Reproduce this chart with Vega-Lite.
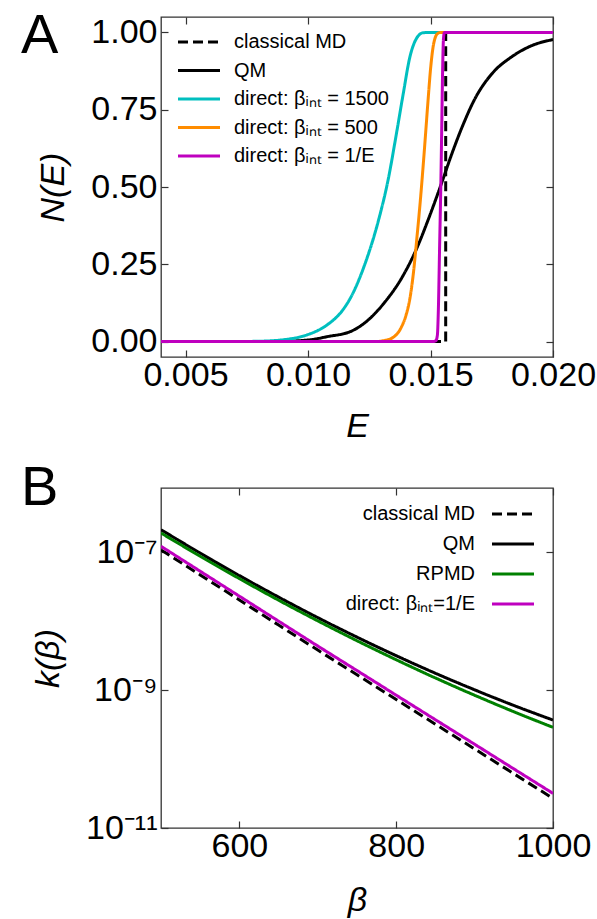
{
  "$schema": "https://vega.github.io/schema/vega-lite/v6.json",
  "padding": {"left": 20, "top": 7, "right": 5, "bottom": 0},
  "background": "white",
  "datasets": {
    "a": [
      {"series": "classical MD", "E": 0.004, "N": 0},
      {"series": "classical MD", "E": 0.01562, "N": 0},
      {"series": "classical MD", "E": 0.015621, "N": 1},
      {"series": "classical MD", "E": 0.02, "N": 1},
      {"series": "QM", "E": 0.004, "N": 0},
      {"series": "QM", "E": 0.008, "N": 0},
      {"series": "QM", "E": 0.009, "N": 0.001},
      {"series": "QM", "E": 0.01, "N": 0.005},
      {"series": "QM", "E": 0.0108, "N": 0.016},
      {"series": "QM", "E": 0.01178, "N": 0.034},
      {"series": "QM", "E": 0.01246, "N": 0.07},
      {"series": "QM", "E": 0.01314, "N": 0.128},
      {"series": "QM", "E": 0.01382, "N": 0.205},
      {"series": "QM", "E": 0.01443, "N": 0.3},
      {"series": "QM", "E": 0.01491, "N": 0.395},
      {"series": "QM", "E": 0.01545, "N": 0.512},
      {"series": "QM", "E": 0.01586, "N": 0.605},
      {"series": "QM", "E": 0.01627, "N": 0.69},
      {"series": "QM", "E": 0.01681, "N": 0.785},
      {"series": "QM", "E": 0.01749, "N": 0.865},
      {"series": "QM", "E": 0.01831, "N": 0.921},
      {"series": "QM", "E": 0.01912, "N": 0.957},
      {"series": "QM", "E": 0.02, "N": 0.977},
      {"series": "direct 1500", "E": 0.004, "N": 0},
      {"series": "direct 1500", "E": 0.007, "N": 0},
      {"series": "direct 1500", "E": 0.008, "N": 0.001},
      {"series": "direct 1500", "E": 0.009, "N": 0.006},
      {"series": "direct 1500", "E": 0.0099, "N": 0.02},
      {"series": "direct 1500", "E": 0.0108, "N": 0.055},
      {"series": "direct 1500", "E": 0.0114, "N": 0.1},
      {"series": "direct 1500", "E": 0.01178, "N": 0.148},
      {"series": "direct 1500", "E": 0.01232, "N": 0.25},
      {"series": "direct 1500", "E": 0.01287, "N": 0.39},
      {"series": "direct 1500", "E": 0.01327, "N": 0.523},
      {"series": "direct 1500", "E": 0.01361, "N": 0.673},
      {"series": "direct 1500", "E": 0.01389, "N": 0.803},
      {"series": "direct 1500", "E": 0.01416, "N": 0.921},
      {"series": "direct 1500", "E": 0.01443, "N": 0.981},
      {"series": "direct 1500", "E": 0.0147, "N": 0.999},
      {"series": "direct 1500", "E": 0.015, "N": 1},
      {"series": "direct 1500", "E": 0.02, "N": 1},
      {"series": "direct 500", "E": 0.004, "N": 0},
      {"series": "direct 500", "E": 0.0128, "N": 0},
      {"series": "direct 500", "E": 0.0131, "N": 0.003},
      {"series": "direct 500", "E": 0.0135, "N": 0.015},
      {"series": "direct 500", "E": 0.0138, "N": 0.045},
      {"series": "direct 500", "E": 0.014, "N": 0.085},
      {"series": "direct 500", "E": 0.01415, "N": 0.135},
      {"series": "direct 500", "E": 0.0143, "N": 0.22},
      {"series": "direct 500", "E": 0.01445, "N": 0.34},
      {"series": "direct 500", "E": 0.0146, "N": 0.47},
      {"series": "direct 500", "E": 0.01475, "N": 0.62},
      {"series": "direct 500", "E": 0.0149, "N": 0.78},
      {"series": "direct 500", "E": 0.015, "N": 0.88},
      {"series": "direct 500", "E": 0.0151, "N": 0.95},
      {"series": "direct 500", "E": 0.0152, "N": 0.985},
      {"series": "direct 500", "E": 0.0153, "N": 0.997},
      {"series": "direct 500", "E": 0.0154, "N": 1},
      {"series": "direct 500", "E": 0.02, "N": 1},
      {"series": "direct 1/E", "E": 0.004, "N": 0},
      {"series": "direct 1/E", "E": 0.0151, "N": 0},
      {"series": "direct 1/E", "E": 0.01522, "N": 0.003},
      {"series": "direct 1/E", "E": 0.01528, "N": 0.02},
      {"series": "direct 1/E", "E": 0.01532, "N": 0.1},
      {"series": "direct 1/E", "E": 0.01537, "N": 0.3},
      {"series": "direct 1/E", "E": 0.01542, "N": 0.5},
      {"series": "direct 1/E", "E": 0.01546, "N": 0.7},
      {"series": "direct 1/E", "E": 0.0155, "N": 0.9},
      {"series": "direct 1/E", "E": 0.01553, "N": 0.98},
      {"series": "direct 1/E", "E": 0.01557, "N": 1},
      {"series": "direct 1/E", "E": 0.02, "N": 1}
    ],
    "b": [
      {"series": "classical MD", "beta": 500, "k": 1.084e-7},
      {"series": "classical MD", "beta": 550, "k": 4.699e-8},
      {"series": "classical MD", "beta": 600, "k": 2.032e-8},
      {"series": "classical MD", "beta": 650, "k": 8.79e-9},
      {"series": "classical MD", "beta": 700, "k": 3.811e-9},
      {"series": "classical MD", "beta": 750, "k": 1.671e-9},
      {"series": "classical MD", "beta": 800, "k": 7.311e-10},
      {"series": "classical MD", "beta": 850, "k": 3.206e-10},
      {"series": "classical MD", "beta": 900, "k": 1.403e-10},
      {"series": "classical MD", "beta": 950, "k": 6.138e-11},
      {"series": "classical MD", "beta": 1000, "k": 2.692e-11},
      {"series": "QM", "beta": 500, "k": 2.128e-7},
      {"series": "QM", "beta": 550, "k": 9.727e-8},
      {"series": "QM", "beta": 600, "k": 4.592e-8},
      {"series": "QM", "beta": 650, "k": 2.239e-8},
      {"series": "QM", "beta": 700, "k": 1.127e-8},
      {"series": "QM", "beta": 750, "k": 5.875e-9},
      {"series": "QM", "beta": 800, "k": 3.162e-9},
      {"series": "QM", "beta": 850, "k": 1.758e-9},
      {"series": "QM", "beta": 900, "k": 1.012e-9},
      {"series": "QM", "beta": 950, "k": 6.0e-10},
      {"series": "QM", "beta": 1000, "k": 3.681e-10},
      {"series": "RPMD", "beta": 500, "k": 1.905e-7},
      {"series": "RPMD", "beta": 550, "k": 8.77e-8},
      {"series": "RPMD", "beta": 600, "k": 4.15e-8},
      {"series": "RPMD", "beta": 650, "k": 2.018e-8},
      {"series": "RPMD", "beta": 700, "k": 1.012e-8},
      {"series": "RPMD", "beta": 750, "k": 5.212e-9},
      {"series": "RPMD", "beta": 800, "k": 2.761e-9},
      {"series": "RPMD", "beta": 850, "k": 1.503e-9},
      {"series": "RPMD", "beta": 900, "k": 8.433e-10},
      {"series": "RPMD", "beta": 950, "k": 4.864e-10},
      {"series": "RPMD", "beta": 1000, "k": 2.884e-10},
      {"series": "direct", "beta": 500, "k": 1.222e-7},
      {"series": "direct", "beta": 550, "k": 5.309e-8},
      {"series": "direct", "beta": 600, "k": 2.307e-8},
      {"series": "direct", "beta": 650, "k": 1.002e-8},
      {"series": "direct", "beta": 700, "k": 4.365e-9},
      {"series": "direct", "beta": 750, "k": 1.923e-9},
      {"series": "direct", "beta": 800, "k": 8.453e-10},
      {"series": "direct", "beta": 850, "k": 3.724e-10},
      {"series": "direct", "beta": 900, "k": 1.641e-10},
      {"series": "direct", "beta": 950, "k": 7.211e-11},
      {"series": "direct", "beta": 1000, "k": 3.177e-11}
    ]
  },
  "config": {
    "view": {"stroke": "#333", "strokeWidth": 1.3},
    "axis": {
      "grid": false, "domain": false, "tickSize": -7, "tickColor": "#333", "tickWidth": 1.2,
      "labelFont": "Liberation Sans", "labelFontSize": 34, "labelColor": "black", "labelPadding": 8, "labelFlush": false,
      "titleFont": "Liberation Sans", "titleFontSize": 34, "titleFontStyle": "italic", "titleFontWeight": "normal", "titleColor": "black"
    },
    "legend": {
      "labelFont": "Liberation Sans", "labelFontSize": 20, "labelColor": "black", "labelLimit": 400,
      "symbolType": "M-2,0H2", "symbolSize": 441, "symbolStrokeWidth": 3, "padding": 0, "title": null
    },
    "title": {"font": "Liberation Sans", "fontSize": 56, "fontWeight": "normal", "color": "black", "anchor": "start", "frame": "group", "offset": 0, "baseline": "alphabetic"}
  },
  "spacing": 15,
  "resolve": {"scale": {"color": "independent", "strokeDash": "independent"}, "legend": {"color": "independent", "strokeDash": "independent"}},
  "vconcat": [
    {
      "width": 392, "height": 340,
      "title": {"text": "A", "dx": -140, "dy": 54},
      "data": {"name": "a"},
      "layer": [
        {
          "mark": {"type": "line", "strokeWidth": 3, "clip": true, "interpolate": "monotone"},
          "encoding": {
            "x": {"field": "E", "type": "quantitative", "scale": {"domain": [0.004, 0.02], "nice": false, "zero": false},
                  "axis": {"values": [0.005, 0.01, 0.015, 0.02], "format": ".3f", "title": "E", "titlePadding": 17}},
            "y": {"field": "N", "type": "quantitative", "scale": {"domain": [-0.05, 1.05], "nice": false, "zero": false},
                  "axis": {"values": [0, 0.25, 0.5, 0.75, 1], "format": ".2f", "title": "N(E)", "labelPadding": 11, "titlePadding": 20}},
            "color": {"field": "series", "type": "nominal",
                      "scale": {"domain": ["classical MD", "QM", "direct 1500", "direct 500", "direct 1/E"], "range": ["black", "black", "#00bfbf", "#ff8c00", "#bf00bf"]},
                      "legend": {"orient": "none", "legendX": 26, "legendY": 13, "labelOffset": 23, "rowPadding": 6.5,
                                 "labelExpr": "datum.label == 'direct 1500' ? 'direct: βᵢₙₜ = 1500' : datum.label == 'direct 500' ? 'direct: βᵢₙₜ = 500' : datum.label == 'direct 1/E' ? 'direct: βᵢₙₜ = 1/E' : datum.label"}},
            "strokeDash": {"field": "series", "type": "nominal",
                      "scale": {"domain": ["classical MD", "QM", "direct 1500", "direct 500", "direct 1/E"], "range": [[10, 5], [1, 0], [1, 0], [1, 0], [1, 0]]}}
          }
        },
        {
          "mark": {"type": "line", "opacity": 0},
          "encoding": {
            "x": {"field": "E", "type": "quantitative", "scale": {"domain": [0.004, 0.02], "nice": false, "zero": false},
                  "axis": {"orient": "top", "values": [0.005, 0.01, 0.015, 0.02], "labels": false, "title": null}},
            "y": {"field": "N", "type": "quantitative", "scale": {"domain": [-0.05, 1.05], "nice": false, "zero": false},
                  "axis": {"orient": "right", "values": [0, 0.25, 0.5, 0.75, 1], "labels": false, "title": null}},
            "detail": {"field": "series"}
          }
        }
      ],
      "resolve": {"axis": {"x": "independent", "y": "independent"}}
    },
    {
      "width": 392, "height": 340,
      "title": {"text": "B", "dx": -140, "dy": 34},
      "data": {"name": "b"},
      "layer": [
        {
          "mark": {"type": "line", "strokeWidth": 3, "clip": true, "interpolate": "monotone"},
          "encoding": {
            "x": {"field": "beta", "type": "quantitative", "scale": {"domain": [500, 1000], "nice": false, "zero": false},
                  "axis": {"values": [600, 800, 1000], "format": "d", "title": "β", "titlePadding": 20}},
            "y": {"field": "k", "type": "quantitative", "scale": {"type": "log", "domain": [1e-11, 8.57e-7], "nice": false},
                  "axis": {"values": [1e-11, 1e-9, 1e-7], "labelExpr": "datum.value < 5e-11 ? '10⁻¹¹' : datum.value < 5e-9 ? '10⁻⁹' : '10⁻⁷'", "title": "k(β)", "labelPadding": 11, "titlePadding": 20}},
            "color": {"field": "series", "type": "nominal",
                      "scale": {"domain": ["classical MD", "QM", "RPMD", "direct"], "range": ["black", "black", "#008000", "#bf00bf"]},
                      "legend": {"orient": "none", "legendX": 340, "legendY": 14, "labelOffset": -50, "labelAlign": "right", "rowPadding": 8,
                                 "labelExpr": "datum.label == 'direct' ? 'direct: βᵢₙₜ=1/E' : datum.label"}},
            "strokeDash": {"field": "series", "type": "nominal",
                      "scale": {"domain": ["classical MD", "QM", "RPMD", "direct"], "range": [[10, 5], [1, 0], [1, 0], [1, 0]]}}
          }
        },
        {
          "mark": {"type": "line", "opacity": 0},
          "encoding": {
            "x": {"field": "beta", "type": "quantitative", "scale": {"domain": [500, 1000], "nice": false, "zero": false},
                  "axis": {"orient": "top", "values": [600, 800, 1000], "labels": false, "title": null}},
            "y": {"field": "k", "type": "quantitative", "scale": {"type": "log", "domain": [1e-11, 8.57e-7], "nice": false},
                  "axis": {"orient": "right", "values": [1e-11, 1e-9, 1e-7], "labels": false, "title": null}},
            "detail": {"field": "series"}
          }
        }
      ],
      "resolve": {"axis": {"x": "independent", "y": "independent"}}
    }
  ]
}
